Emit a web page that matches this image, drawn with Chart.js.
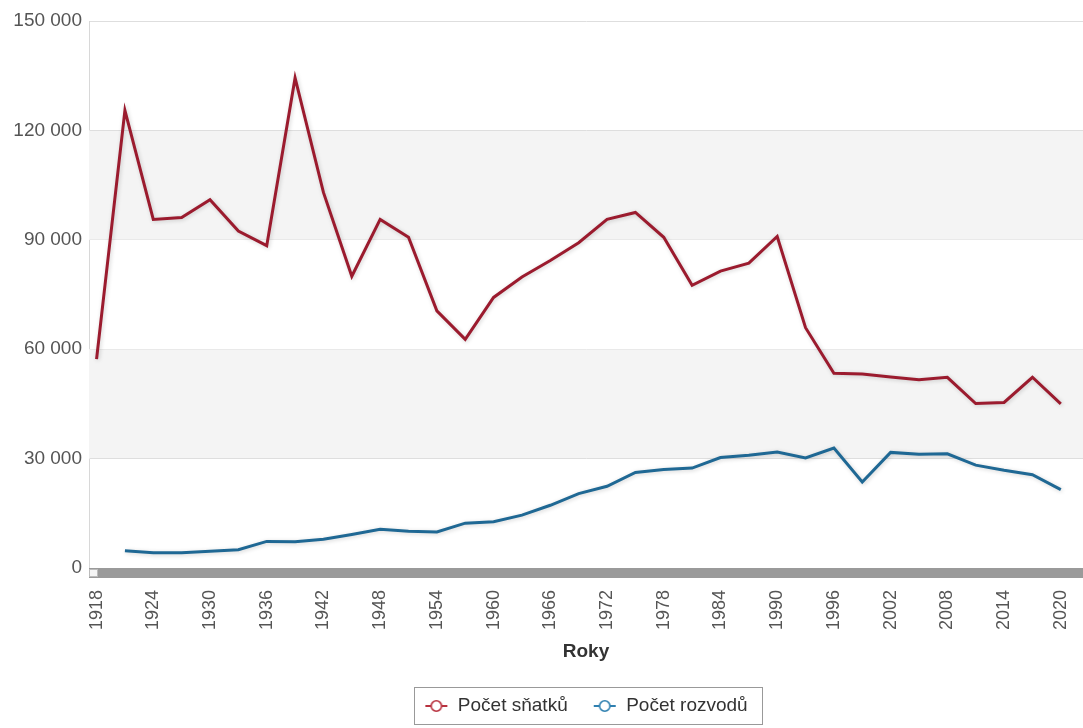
<!DOCTYPE html>
<html>
<head>
<meta charset="utf-8">
<script src="https://cdn.jsdelivr.net/npm/chart.js"></script>
<style>
  body { margin: 0; background: #fff; }
  #wrap { width: 1083px; height: 728px; position: relative; }
</style>
</head>
<body>
<div id="wrap"><canvas id="chart"></canvas></div>
<script>
// years on the x axis (every 3 years)
const years = [1918, 1921, 1924, 1927, 1930, 1933, 1936, 1939, 1942, 1945, 1948, 1951,
  1954, 1957, 1960, 1963, 1966, 1969, 1972, 1975, 1978, 1981, 1984, 1987, 1990, 1993,
  1996, 1999, 2002, 2005, 2008, 2011, 2014, 2017, 2020];

// Počet sňatků (marriages)
const snatky = [57300, 125500, 95600, 96100, 101000, 92400, 88400, 134400, 103000, 80000,
  95600, 90700, 70500, 62700, 74200, 79800, 84300, 89200, 95600, 97500, 90700, 77500,
  81400, 83600, 90900, 65900, 53400, 53200, 52400, 51600, 52300, 45100, 45400, 52300, 45000];

// Počet rozvodů (divorces), no value for 1918
const rozvody = [null, 4700, 4200, 4200, 4600, 5000, 7300, 7200, 7900, 9200, 10600, 10100,
  9900, 12300, 12700, 14500, 17200, 20400, 22400, 26200, 27000, 27400, 30300, 30900,
  31800, 30200, 32900, 23600, 31700, 31200, 31300, 28200, 26800, 25600, 21500];

// labelled years under the axis
const yearTicks = [1918, 1924, 1930, 1936, 1942, 1948, 1954, 1960, 1966, 1972, 1978,
  1984, 1990, 1996, 2002, 2008, 2014, 2020];

// shaded bands of the plot
const bands = [[90000, 120000], [30000, 60000]];

const redColor = '#9b1b2e';
const blueColor = '#1f6894';

// little "-o-" marker for the legend
function makeMarker(color) {
  const c = document.createElement('canvas');
  c.width = 24;
  c.height = 14;
  const g = c.getContext('2d');
  g.strokeStyle = color;
  g.lineWidth = 2;
  g.beginPath();
  g.moveTo(1, 7);
  g.lineTo(23, 7);
  g.stroke();
  g.fillStyle = '#fff';
  g.lineWidth = 1.6;
  g.beginPath();
  g.arc(12, 7, 5.2, 0, Math.PI * 2);
  g.fill();
  g.stroke();
  return c;
}

const spaced = v => String(v).replace(/\B(?=(\d{3})+(?!\d))/g, ' ');

// grey bands behind the lines
const bandsPlugin = {
  id: 'bands',
  beforeDatasetsDraw(chart) {
    const {ctx, chartArea, scales: {y}} = chart;
    ctx.save();
    ctx.fillStyle = '#f4f4f4';
    bands.forEach(b => {
      const top = y.getPixelForValue(b[1]);
      const bottom = y.getPixelForValue(b[0]);
      ctx.fillRect(chartArea.left, top, chartArea.right - chartArea.left, bottom - top);
    });
    ctx.restore();
  }
};

// soft shadow under each line
const shadowPlugin = {
  id: 'shadow',
  beforeDatasetDraw(chart) {
    const ctx = chart.ctx;
    ctx.save();
    ctx.shadowColor = 'rgba(0,0,0,0.18)';
    ctx.shadowBlur = 4;
    ctx.shadowOffsetX = 1;
    ctx.shadowOffsetY = 1;
  },
  afterDatasetDraw(chart) {
    chart.ctx.restore();
  }
};

// thick grey bar along the x axis + the legend frame
const framePlugin = {
  id: 'frame',
  afterDraw(chart) {
    const {ctx, chartArea} = chart;
    ctx.save();
    ctx.fillStyle = '#9a9a9a';
    ctx.fillRect(chartArea.left, chartArea.bottom, chartArea.right - chartArea.left, 10);
    ctx.fillStyle = '#f4f4f4';
    ctx.fillRect(chartArea.left, chartArea.bottom + 1, 9, 8);
    ctx.strokeStyle = '#bbb';
    ctx.lineWidth = 1;
    ctx.strokeRect(chartArea.left + 0.5, chartArea.bottom + 1.5, 8, 7);

    const hb = chart.legend.legendHitBoxes;
    if (hb && hb.length) {
      const last = hb[hb.length - 1];
      const x0 = hb[0].left - 10;
      const x1 = last.left + last.width + 15;
      const y0 = hb[0].top - 10;
      ctx.strokeStyle = '#999';
      ctx.strokeRect(Math.round(x0) + 0.5, Math.round(y0) + 0.5, Math.round(x1 - x0), 37);
    }
    ctx.restore();
  }
};

new Chart(document.getElementById('chart').getContext('2d'), {
  type: 'line',
  data: {
    datasets: [
      {
        label: 'Počet sňatků',
        data: years.map((yr, i) => ({x: yr, y: snatky[i]})),
        borderColor: redColor,
        borderWidth: 3,
        pointRadius: 0,
        pointStyle: makeMarker('#b8323f'),
        tension: 0,
        fill: false
      },
      {
        label: 'Počet rozvodů',
        data: years.map((yr, i) => ({x: yr, y: rozvody[i]})),
        borderColor: blueColor,
        borderWidth: 3,
        pointRadius: 0,
        pointStyle: makeMarker('#2f80b0'),
        tension: 0,
        fill: false
      }
    ]
  },
  options: {
    responsive: true,
    maintainAspectRatio: false,
    animation: false,
    layout: { padding: { top: 21, right: 0, left: 0, bottom: 2.5 } },
    scales: {
      x: {
        type: 'linear',
        min: 1917.2,
        max: 2022.35,
        bounds: 'data',
        afterBuildTicks: scale => { scale.ticks = yearTicks.map(v => ({value: v})); },
        afterFit: scale => {
          scale.height = 103.5;
          scale.paddingLeft = 0;
          scale.paddingRight = 0;
        },
        grid: { display: false, drawTicks: false },
        border: { display: false },
        ticks: {
          autoSkip: false,
          maxRotation: 90,
          minRotation: 90,
          padding: 22,
          color: '#555',
          font: { family: 'Liberation Sans, Arial, sans-serif', size: 18 },
          callback: v => String(v)
        },
        title: {
          display: true,
          text: 'Roky',
          color: '#333',
          padding: { top: 0, bottom: 8 },
          font: { family: 'Liberation Sans, Arial, sans-serif', size: 19, weight: 'bold' }
        }
      },
      y: {
        min: 0,
        max: 150000,
        afterFit: scale => { scale.width = 89; },
        grid: {
          drawTicks: false,
          color: ctx => ctx.tick && ctx.tick.value === 150000 ? '#dedede' : '#bdbdbd'
        },
        border: { display: true, color: '#d8d8d8' },
        ticks: {
          stepSize: 30000,
          padding: 7,
          color: '#555',
          font: { family: 'Liberation Sans, Arial, sans-serif', size: 19 },
          callback: v => spaced(v)
        }
      }
    },
    plugins: {
      legend: {
        position: 'bottom',
        fullSize: false,
        labels: {
          usePointStyle: true,
          pointStyleWidth: 24,
          padding: 25,
          color: '#333',
          font: { family: 'Liberation Sans, Arial, sans-serif', size: 19 }
        }
      },
      tooltip: { enabled: false }
    }
  },
  plugins: [bandsPlugin, shadowPlugin, framePlugin]
});
</script>
</body>
</html>
